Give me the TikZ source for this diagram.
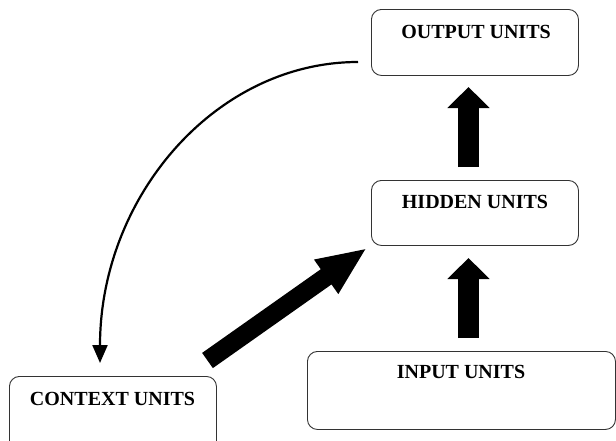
\documentclass[tikz,border=0pt]{standalone}
\usepackage{fontspec}
\setmainfont{Liberation Serif}
\usetikzlibrary{arrows.meta}
\tikzset{
  unitbox/.style={draw=black!80, line width=0.9pt, rounded corners=10pt, inner sep=0pt, anchor=north west},
  lbl/.style={font=\fontsize{20}{24}\selectfont\bfseries, inner sep=0pt},
  fatup/.style={line width=21pt, -{Triangle[width=41pt,length=21pt]}},
  fatdiag/.style={line width=18.6pt, -{Triangle[width=38pt,length=50pt]}},
  feedback/.style={line width=2.2pt, -{Triangle[width=15pt,length=18pt]}}
}
\begin{document}
\begin{tikzpicture}[x=1pt,y=-1pt]
\useasboundingbox (0,0) rectangle (616,440);
\clip (0,0) rectangle (616,440);
% boxes
\node[unitbox, minimum width=207pt, minimum height=66pt] (out) at (371,9) {};
\node[unitbox, minimum width=207pt, minimum height=65pt] (hid) at (371,180) {};
\node[unitbox, minimum width=308pt, minimum height=78pt] (inp) at (307,351) {};
\node[unitbox, minimum width=207pt, minimum height=80pt] (ctx) at (9,376) {};
% labels
\node[lbl] (outl) at (476,32) {OUTPUT UNITS};
\node[lbl] (hidl) at (475,201.5) {HIDDEN UNITS};
\node[lbl] (inpl) at (461,372) {INPUT UNITS};
\node[lbl] (ctxl) at (112.5,399) {CONTEXT UNITS};
% connector end points
\coordinate (a1s) at (468.5,167);
\coordinate (a1e) at (468.5,87);
\coordinate (a2s) at (468.5,338);
\coordinate (a2e) at (468.5,258);
\coordinate (a3s) at (207.5,360.5);
\coordinate (a3e) at (367,248);
\coordinate (cs) at (358,62);
\coordinate (ce) at (100,363);
% arrows
\draw[fatup] (a1s) -- (a1e);
\draw[fatup] (a2s) -- (a2e);
\draw[fatdiag] (a3s) -- (a3e);
\draw[feedback] (cs) .. controls (215.5,62) and (100,196.8) .. (ce);
\end{tikzpicture}
\end{document}
